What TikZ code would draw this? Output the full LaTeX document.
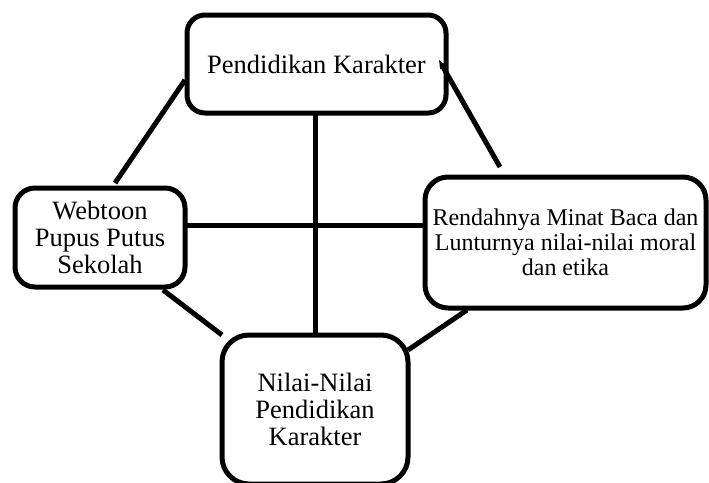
\documentclass[tikz,border=0pt]{standalone}
\usepackage{fontspec}
\setmainfont{Liberation Serif}
\usetikzlibrary{calc,arrows.meta}
\begin{document}
\begin{tikzpicture}[x=1pt,y=-1pt,
  box/.style={draw=black,line width=5pt,fill=white,inner sep=0pt,outer sep=0pt,
    align=center,font=\fontsize{26.5pt}{27pt}\selectfont},
  link/.style={draw=black,line width=5pt}]
\useasboundingbox (0,0) rectangle (709,482);
\clip (0,0) rectangle (709,482);
\node[box,rounded corners=18pt,minimum width=259pt,minimum height=98pt] (T) at (316.5,64) {Pendidikan Karakter};
\node[box,rounded corners=20pt,minimum width=170pt,minimum height=99pt] (L) at (100,237.5) {Webtoon\\Pupus Putus\\Sekolah};
\node[box,rounded corners=23pt,minimum width=281pt,minimum height=131pt,font=\fontsize{24pt}{25pt}\selectfont] (R) at (565.5,242.5) {Rendahnya Minat Baca dan\\Lunturnya nilai-nilai moral\\dan etika};
\node[box,rounded corners=27pt,minimum width=186pt,minimum height=149pt] (B) at (315,409.5) {Nilai-Nilai\\Pendidikan\\Karakter};
\draw[link] ($(T.west)+(-2,16)$) -- ($(L.north)+(15,-5)$);
\draw[link,-{Stealth[length=9pt,width=7pt]}] ($(R.north west)+(75,-10)$) -- ($(T.east)+(-7,-4)$);
\draw[link] (B.north |- T.south) -- (B.north);
\draw[link] ($(L.east)+(0,-12.5)$) -- ($(R.west)+(0,-17.5)$);
\draw[link] ($(L.south)+(63,3)$) -- (B.north west);
\draw[link] ($(R.south west)+(42,2)$) -- ($(B.north east)+(0,15)$);
\end{tikzpicture}
\end{document}
